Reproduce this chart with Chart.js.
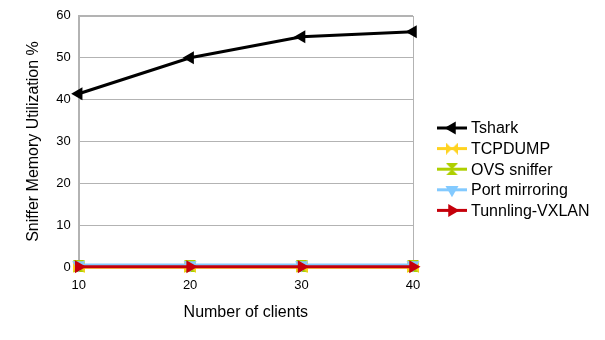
<!DOCTYPE html>
<html>
<head>
<meta charset="utf-8">
<script src="https://cdn.jsdelivr.net/npm/chart.js@4/dist/chart.umd.min.js"></script>
<style>
  html, body { margin: 0; padding: 0; background: #fff; }
  #wrap { width: 605px; height: 340px; }
</style>
</head>
<body>
<div id="wrap"><canvas id="memChart"></canvas></div>
<script>
var clients = ['10', '20', '30', '40'];
var tshark = [41.4, 50, 55, 56.2];
var tcpdump = [0, 0, 0, 0];
var ovsSniffer = [0.2, 0.2, 0.2, 0.2];
var portMirroring = [0.5, 0.5, 0.5, 0.5];
var tunnlingVxlan = [0.1, 0.1, 0.1, 0.1];
var yTicks = [0, 10, 20, 30, 40, 50, 60];

var FONT = '"Liberation Sans", Arial, sans-serif';

// bowtie markers (LibreOffice style)
function bowtie(color, vertical) {
	var c = document.createElement('canvas');
	c.width = 12; c.height = 12;
	var g = c.getContext('2d');
	g.fillStyle = color;
	g.beginPath();
	if (vertical) {
		g.moveTo(0, 0); g.lineTo(12, 0); g.lineTo(0, 12); g.lineTo(12, 12);
	} else {
		g.moveTo(0, 0); g.lineTo(0, 12); g.lineTo(12, 0); g.lineTo(12, 12);
	}
	g.closePath();
	g.fill();
	return c;
}

function series(label, data, color, style, rot, order) {
	return {
		label: label,
		data: data,
		borderColor: color,
		backgroundColor: color,
		borderWidth: 3,
		pointStyle: style,
		rotation: rot,
		pointRadius: 7.5,
		pointBorderWidth: 0,
		tension: 0,
		clip: false,
		order: order
	};
}

var legendPlugin = {
	id: 'sideLegend',
	beforeDatasetsDraw: function (chart) {
		var c = chart.ctx;
		var a = chart.chartArea;
		// plot frame
		c.save();
		c.strokeStyle = '#b3b3b3';
		c.lineWidth = 1;
		c.strokeRect(Math.round(a.left) + 0.5, Math.round(a.top) + 0.5, Math.round(a.right - a.left), Math.round(a.bottom - a.top));
		c.restore();
	},
	afterDraw: function (chart) {
		var c = chart.ctx;
		var x0 = 437, x1 = 467, y0 = 128, dy = 20.6;
		chart.data.datasets.forEach(function (ds, i) {
			var y = y0 + i * dy;
			c.save();
			c.strokeStyle = ds.borderColor;
			c.lineWidth = 3;
			c.beginPath();
			c.moveTo(x0, y);
			c.lineTo(x1, y);
			c.stroke();
			c.fillStyle = ds.backgroundColor;
			Chart.helpers.drawPoint(c, {pointStyle: ds.pointStyle, rotation: ds.rotation, radius: 7.5, borderWidth: 0}, (x0 + x1) / 2, y);
			c.fillStyle = '#000';
			c.font = '16px ' + FONT;
			c.textBaseline = 'middle';
			c.fillText(ds.label, 471, y + 1);
			c.restore();
		});
	}
};

var ctx = document.getElementById('memChart').getContext('2d');
var memChart = new Chart(ctx, {
	type: 'line',
	data: {
		labels: clients,
		datasets: [
			series('Tshark', tshark, '#000000', 'triangle', -90, 4),
			series('TCPDUMP', tcpdump, '#ffd320', bowtie('#ffd320', false), 0, 3),
			series('OVS sniffer', ovsSniffer, '#aecf00', bowtie('#aecf00', true), 0, 2),
			series('Port mirroring', portMirroring, '#83caff', 'triangle', 180, 1),
			series('Tunnling-VXLAN', tunnlingVxlan, '#c5000b', 'triangle', 90, 0)
		]
	},
	options: {
		responsive: true,
		maintainAspectRatio: false,
		animation: false,
		layout: {
			padding: { left: 20, right: 192, top: 8, bottom: 14 }
		},
		scales: {
			x: {
				offset: false,
				grid: { display: false },
				border: { color: '#b3b3b3' },
				ticks: { color: '#000', font: { family: FONT, size: 13 }, padding: 2, maxRotation: 0 },
				title: { display: true, text: 'Number of clients', color: '#000', font: { family: FONT, size: 16 }, padding: { top: 8 } }
			},
			y: {
				min: 0,
				max: 60,
				afterBuildTicks: function (axis) {
					axis.ticks = yTicks.map(function (v) { return { value: v }; });
				},
				grid: { color: '#b3b3b3', drawTicks: false },
				border: { color: '#b3b3b3' },
				ticks: { color: '#000', font: { family: FONT, size: 13 }, padding: 8 },
				title: { display: true, text: 'Sniffer Memory Utilization %', color: '#000', font: { family: FONT, size: 16 }, padding: { bottom: 5 } }
			}
		},
		plugins: {
			legend: { display: false },
			tooltip: { enabled: false }
		}
	},
	plugins: [legendPlugin]
});
</script>
</body>
</html>
